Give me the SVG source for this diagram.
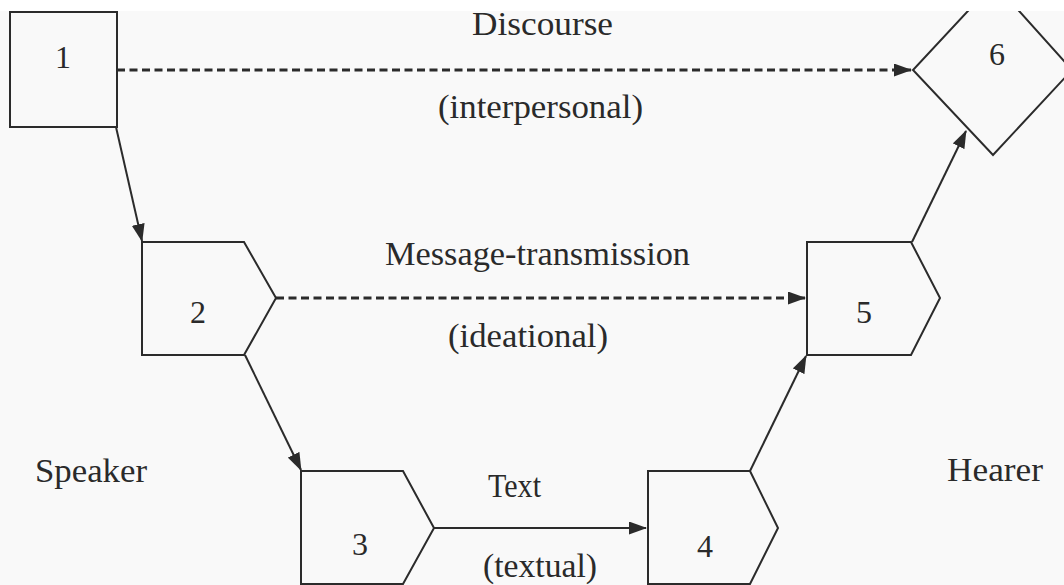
<svg xmlns="http://www.w3.org/2000/svg" width="1064" height="585" viewBox="0 0 1064 585">
  <style>
    .node { fill: none; stroke: #2b2b2b; stroke-width: 2; stroke-linejoin: miter; }
    .lbl { font-family: "Liberation Serif", "Times New Roman", serif; font-size: 33px; fill: #2a2a2a; }
    .num { font-family: "Liberation Serif", "Times New Roman", serif; font-size: 32px; fill: #2a2a2a; text-anchor: middle; }
    .solid { fill: none; stroke: #2b2b2b; stroke-width: 2; }
    .dash { fill: none; stroke: #2b2b2b; stroke-width: 3; stroke-dasharray: 8 4.5; }
  </style>
  <defs>
    <marker id="ah" markerUnits="userSpaceOnUse" markerWidth="18" markerHeight="13" refX="17" refY="6.5" orient="auto">
      <path d="M0,0 L18,6.5 L0,13 Z" fill="#2b2b2b"/>
    </marker>
    <clipPath id="page">
      <rect x="0" y="11" width="1064" height="574"/>
    </clipPath>
  </defs>
  <rect x="0" y="0" width="1064" height="585" fill="#ffffff"/>
  <rect x="0" y="11" width="1064" height="574" fill="#f9f9f9"/>

  <g id="connectors">
    <line class="dash" x1="117" y1="70" x2="911" y2="70" marker-end="url(#ah)"/>
    <line class="dash" x1="276" y1="298" x2="805" y2="298" marker-end="url(#ah)"/>
    <line class="solid" x1="434" y1="528" x2="646" y2="528" marker-end="url(#ah)"/>
    <line class="solid" x1="116" y1="127" x2="142" y2="241" marker-end="url(#ah)"/>
    <line class="solid" x1="245" y1="355" x2="301" y2="470" marker-end="url(#ah)"/>
    <line class="solid" x1="750" y1="471" x2="806" y2="356" marker-end="url(#ah)"/>
    <line class="solid" x1="912" y1="242" x2="966" y2="131" marker-end="url(#ah)"/>
  </g>

  <g id="node1">
    <rect class="node" x="10" y="12" width="107" height="115"/>
    <text class="num" x="63" y="68">1</text>
  </g>
  <g id="node2">
    <polygon class="node" points="142,242 244,242 276,298 244,355 142,355"/>
    <text class="num" x="198" y="323">2</text>
  </g>
  <g id="node3">
    <polygon class="node" points="301,471 403,471 434,528 403,584 301,584"/>
    <text class="num" x="360" y="555">3</text>
  </g>
  <g id="node4">
    <polygon class="node" points="648,471 750,471 778,528 750,584 648,584"/>
    <text class="num" x="705" y="557">4</text>
  </g>
  <g id="node5">
    <polygon class="node" points="807,242 911,242 940,298 911,355 807,355"/>
    <text class="num" x="864" y="323">5</text>
  </g>
  <g id="node6">
    <polygon class="node" clip-path="url(#page)" points="994,-17 1072,70 993,155 913,70"/>
    <text class="num" x="997" y="65">6</text>
  </g>

  <g id="labels">
    <text class="lbl" x="472" y="35" textLength="141" lengthAdjust="spacingAndGlyphs">Discourse</text>
    <text class="lbl" x="438" y="118" textLength="205" lengthAdjust="spacingAndGlyphs">(interpersonal)</text>
    <text class="lbl" x="385" y="265" textLength="305" lengthAdjust="spacingAndGlyphs">Message-transmission</text>
    <text class="lbl" x="448" y="347" textLength="160" lengthAdjust="spacingAndGlyphs">(ideational)</text>
    <text class="lbl" x="488" y="497" textLength="53" lengthAdjust="spacingAndGlyphs">Text</text>
    <text class="lbl" x="483" y="577" textLength="114" lengthAdjust="spacingAndGlyphs">(textual)</text>
    <text class="lbl" x="35" y="482" textLength="112" lengthAdjust="spacingAndGlyphs">Speaker</text>
    <text class="lbl" x="947" y="481" textLength="96" lengthAdjust="spacingAndGlyphs">Hearer</text>
  </g>
</svg>
